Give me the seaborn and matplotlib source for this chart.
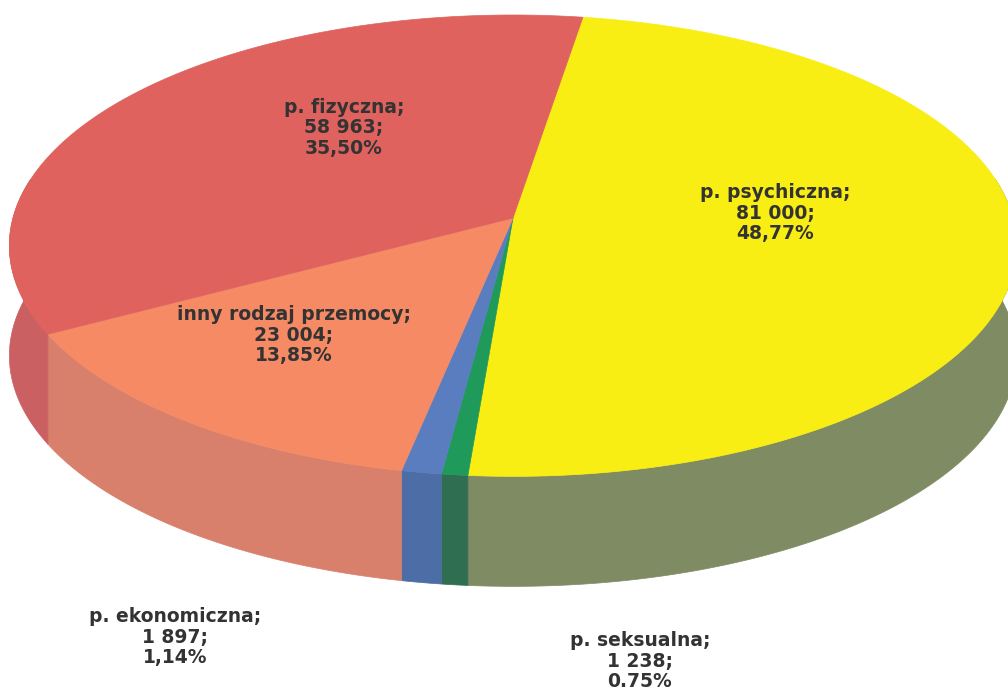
import numpy as np
import matplotlib
matplotlib.use("Agg")
import matplotlib.pyplot as plt
import seaborn as sns
from matplotlib.patches import Polygon

# ---- data ----
categories = ["p. psychiczna", "p. seksualna", "p. ekonomiczna",
              "inny rodzaj przemocy", "p. fizyczna"]
values = [81000, 1238, 1897, 23004, 58963]
value_labels = ["81 000", "1 238", "1 897", "23 004", "58 963"]
pct_labels = ["48,77%", "0.75%", "1,14%", "13,85%", "35,50%"]

# ---- style / layout ----
top_colors = ["#F8EE14", "#1F9A5B", "#5A7DC0", "#F58A65", "#DF625E"]
side_colors = ["#7F8B63", "#2F6E50", "#4C6DA6", "#D8806B", "#CB6062"]
label_pos = [(775, 213), (640, 661), (175, 637), (294, 335), (344, 128)]

CX, CY = 513.0, 218.0            # projected pie centre (pixels)
A, K = 500.0, 0.12               # horizontal radius, perspective strength
S = 203.0 * (1 + K)              # vertical scale so the far edge sits at y~15
DEPTH = 110.0
START = 81.0

sns.set_theme(style="white")
plt.rcParams['font.family'] = ['DejaVu Sans']

fig = plt.figure(figsize=(10.08, 6.95), dpi=100)
ax = fig.add_axes([0, 0, 1, 1])
ax.set_xlim(0, 1008)
ax.set_ylim(695, 0)
ax.axis("off")

vals = np.array(values, dtype=float)
fracs = vals / vals.sum()
angles = START - np.concatenate([[0], np.cumsum(fracs) * 360.0])


def proj(theta_deg):
    t = np.radians(theta_deg)
    u, v = np.cos(t), np.sin(t)
    d = 1 + K * v
    return CX + A * u / d, CY - S * v / d


# side faces
for i in range(len(vals)):
    a0, a1 = angles[i + 1], angles[i]
    lo = a0 % 360
    hi = lo + (a1 - a0)
    for off in (-360, 0, 360):
        s, e = max(lo + off, 170), min(hi + off, 370)
        if e > s:
            ts = np.linspace(s, e, 300)
            xs, ys = proj(ts)
            poly = np.column_stack([np.concatenate([xs, xs[::-1]]),
                                    np.concatenate([ys, ys[::-1] + DEPTH])])
            ax.add_patch(Polygon(poly, closed=True, facecolor=side_colors[i],
                                 edgecolor=side_colors[i], lw=0.5, zorder=1))

# top faces
for i in range(len(vals)):
    ts = np.linspace(angles[i], angles[i + 1], 400)
    xs, ys = proj(ts)
    poly = np.column_stack([np.concatenate([[CX], xs]),
                            np.concatenate([[CY], ys])])
    ax.add_patch(Polygon(poly, closed=True, facecolor=top_colors[i],
                         edgecolor=top_colors[i], lw=0.5, zorder=2))

# labels
for i, (px, py) in enumerate(label_pos):
    ax.text(px, py, f"{categories[i]};\n{value_labels[i]};\n{pct_labels[i]}",
            ha="center", va="center", fontsize=13.5, fontweight="bold",
            color="#333333", linespacing=1.12, zorder=5)

fig.savefig("out.png", dpi=100, facecolor="white")
